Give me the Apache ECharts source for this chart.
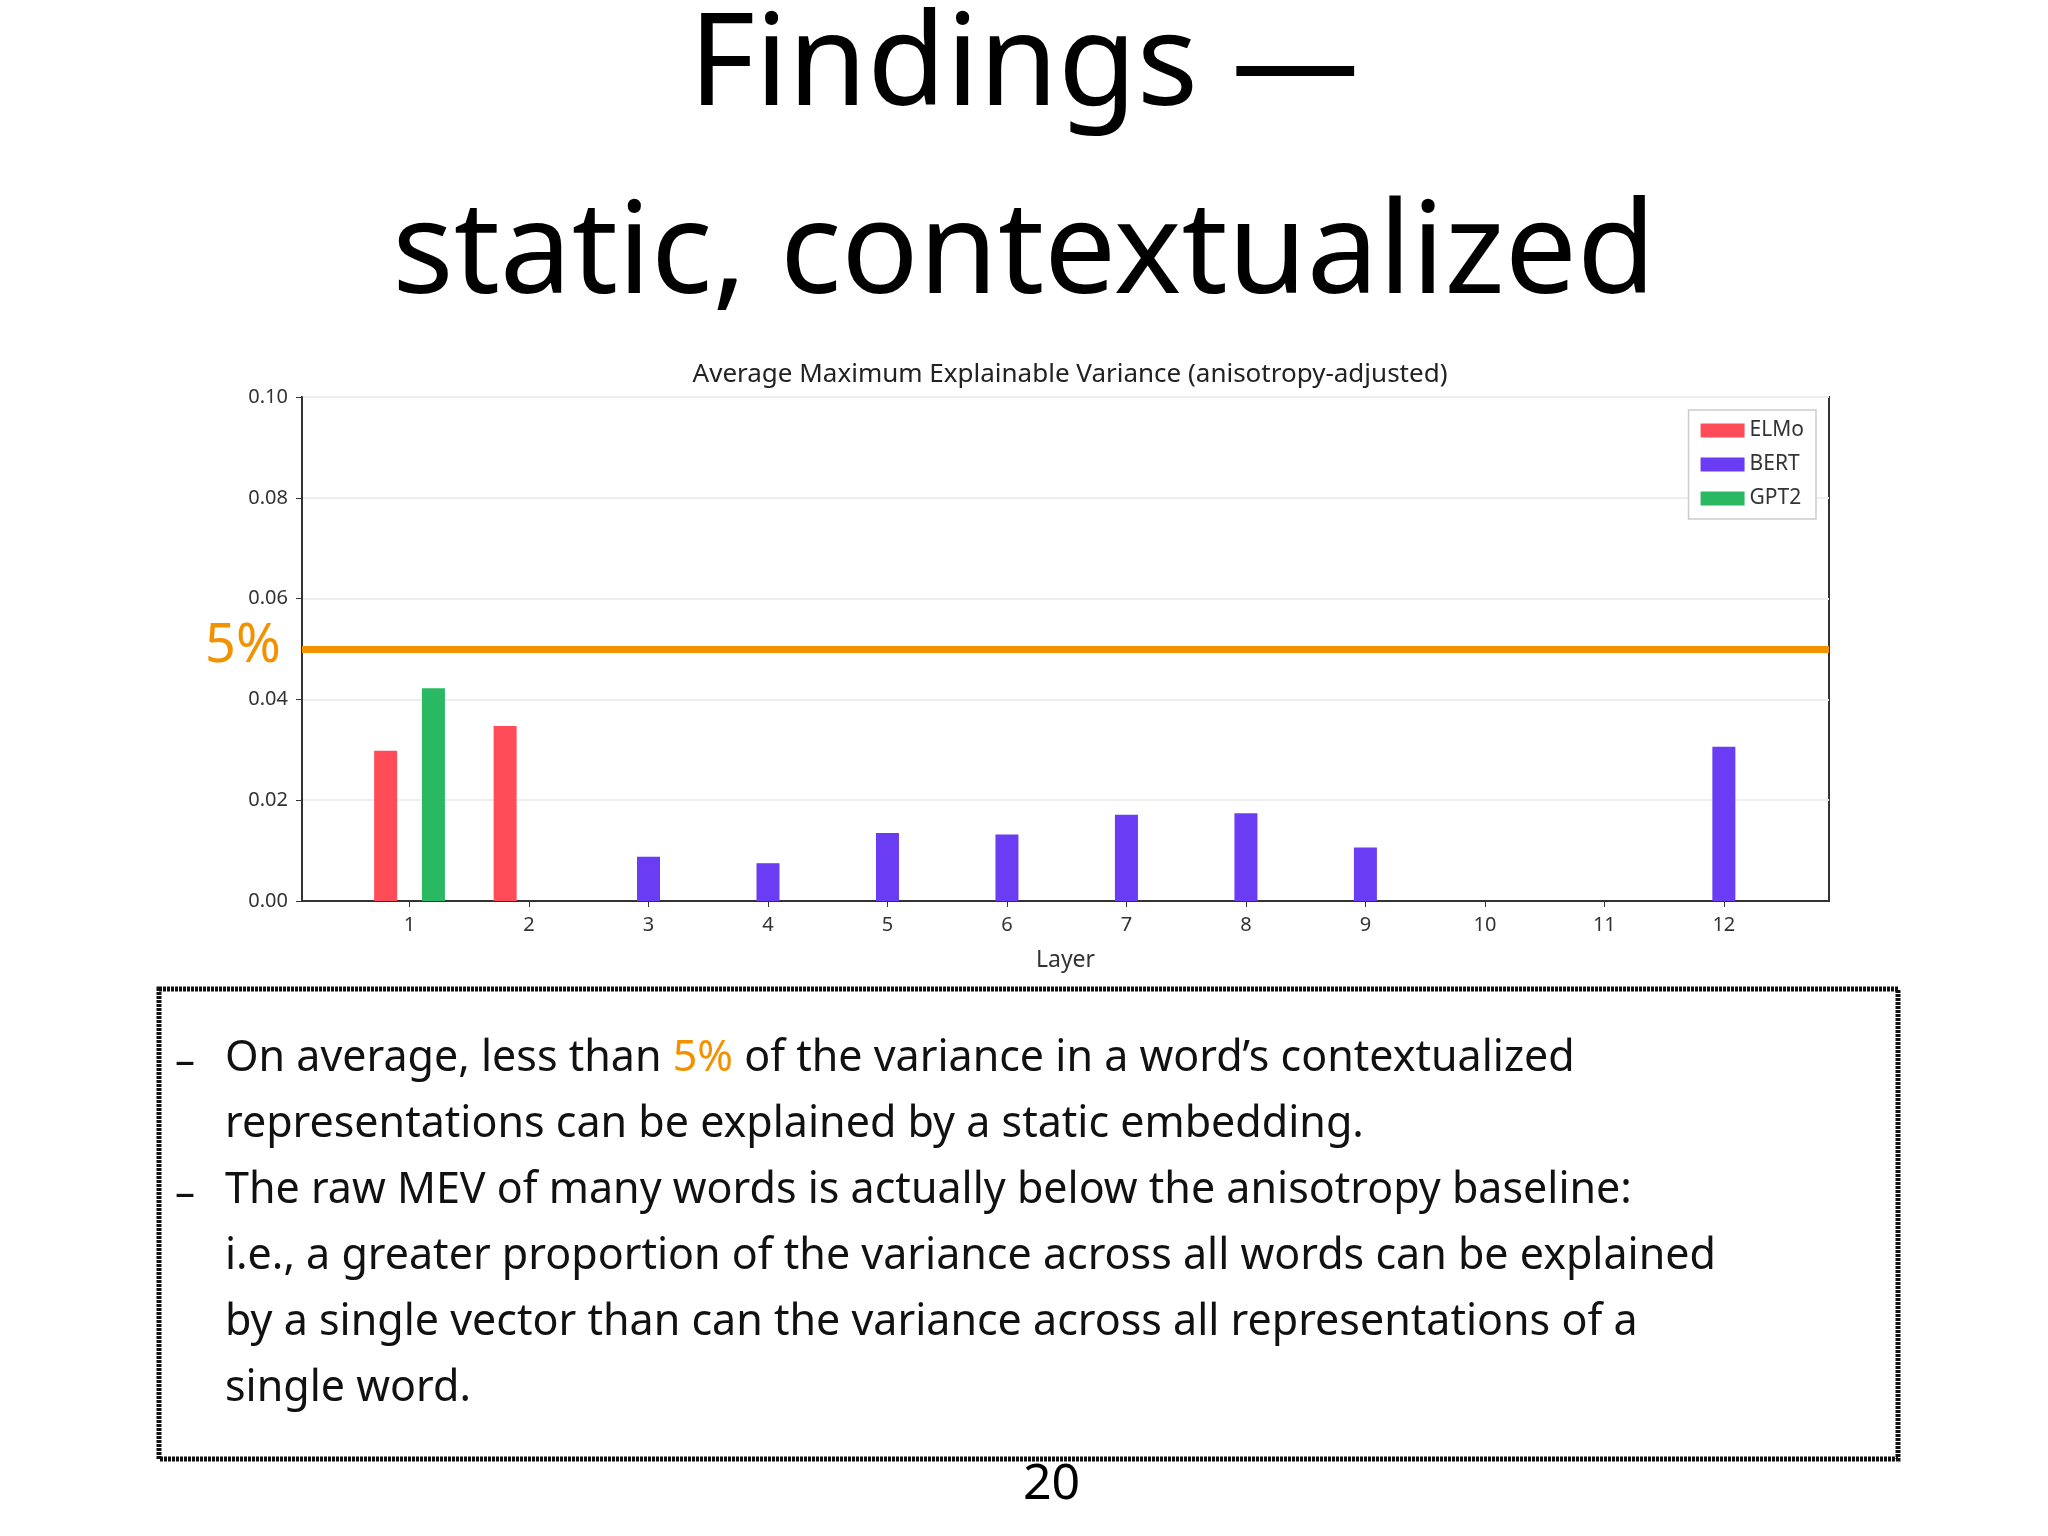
<!DOCTYPE html>
<html><head><meta charset="utf-8">
<script src="https://cdn.jsdelivr.net/npm/echarts@6/dist/echarts.min.js"></script>
<style>html,body{margin:0;background:#fff}#c{width:2048px;height:1536px}</style>
</head><body><div id="c"></div>
<script>
const layers = [1,2,3,4,5,6,7,8,9,10,11,12];
const elmoLayers = [1,2];
const elmoValues = [0.0298,0.0347];
const bertLayers = [3,4,5,6,7,8,9,10,11,12];
const bertValues = [0.0088,0.0075,0.0135,0.0132,0.0171,0.0174,0.0106,0,0,0.0306];
const gpt2Layers = [1];
const gpt2Values = [0.0422];
const baseline = 0.048;
const offsets = {ELMo:-0.2, BERT:0, GPT2:0.2};
const colors = {ELMo:'#ff4c58', BERT:'#6a3df5', GPT2:'#2bb863'};
const F = '"Noto Sans", sans-serif';
const AF = '"DejaVu Sans", sans-serif';

function mk(name, ls, vs){
  return {name, type:'bar', barWidth:23, barGap:'-100%', itemStyle:{color:colors[name]},
    data: ls.map((l,i)=>[l+offsets[name], vs[i]])};
}
const chart = echarts.init(document.getElementById('c'));
const series = [mk('ELMo',elmoLayers,elmoValues), mk('BERT',bertLayers,bertValues), mk('GPT2',gpt2Layers,gpt2Values)];
series[0].markLine = {symbol:'none', silent:true, label:{show:false},
  lineStyle:{color:'#f39200', width:7, type:'solid'}, data:[{yAxis:baseline}]};
chart.setOption({
  animation:false,
  title:[
    {text:'Findings —', left:'center', top:0, textStyle:{fontFamily:F, fontSize:128, fontWeight:'normal', color:'#000'}},
    {text:'static, contextualized', left:'center', top:188, textStyle:{fontFamily:F, fontSize:128, fontWeight:'normal', color:'#000'}},
    {text:'Average Maximum Explainable Variance (anisotropy-adjusted)', left:1065, textAlign:'center', top:357, textStyle:{fontFamily:F, fontSize:26, fontWeight:'normal', color:'#222'}}
  ],
  grid:{left:302, right:219, top:397, bottom:635, show:true, borderColor:'#333', borderWidth:2, backgroundColor:'#fff'},
  legend:{right:232, top:410, orient:'vertical', itemWidth:44, itemHeight:14, itemGap:13,
    textStyle:{fontFamily:F, fontSize:21, color:'#333'}, backgroundColor:'#fff', borderColor:'#ccc', borderWidth:1.5, padding:[10,12],
    data:['ELMo','BERT','GPT2'], icon:'rect'},
  xAxis:{type:'value', min:0.1, max:12.88, name:'Layer', nameLocation:'middle', nameGap:48,
    nameTextStyle:{fontFamily:F, fontSize:23, color:'#333'},
    axisLine:{show:true, lineStyle:{color:'#333', width:2}},
    axisTick:{show:true, customValues:layers, length:6, lineStyle:{color:'#333'}},
    axisLabel:{customValues:layers, fontFamily:F, fontSize:20, color:'#333', margin:14},
    splitLine:{show:false}},
  yAxis:{type:'value', min:0, max:0.1, interval:0.02,
    axisLine:{show:true, lineStyle:{color:'#333', width:2}},
    axisTick:{show:true, length:6, lineStyle:{color:'#333'}},
    axisLabel:{fontFamily:F, fontSize:20, color:'#333', formatter:v=>v.toFixed(2), margin:14},
    splitLine:{show:true, lineStyle:{color:'#eee', width:2}}},
  series,
  graphic:[
    {type:'text', left:205, top:620, style:{text:'5%', fontFamily:F, fontSize:54, fill:'#f39200'}},
    {type:'rect', shape:{x:159, y:989, width:1739, height:470}, style:{fill:'none', stroke:'#111', lineWidth:5, lineDash:[3,1]}},
    {type:'text', left:175, top:1030, style:{
      text:'–\n\n–', fontFamily:F, fontSize:40, lineHeight:66, fill:'#111'}},
    {type:'text', left:225, top:1026, style:{
      text:'On average, less than {o|5%} of the variance in a word’s contextualized\nrepresentations can be explained by a static embedding.\nThe raw MEV of many words is actually below the anisotropy baseline:\ni.e., a greater proportion of the variance across all words can be explained\nby a single vector than can the variance across all representations of a\nsingle word.',
      fontFamily:F, fontSize:43, lineHeight:66, fill:'#111',
      rich:{o:{fill:'#f39200', fontFamily:F, fontSize:43}}}},
    {type:'text', left:1023, top:1460, style:{text:'20', fontFamily:F, fontSize:50, fill:'#000', textAlign:'center'}}
  ]
});
</script></body></html>
